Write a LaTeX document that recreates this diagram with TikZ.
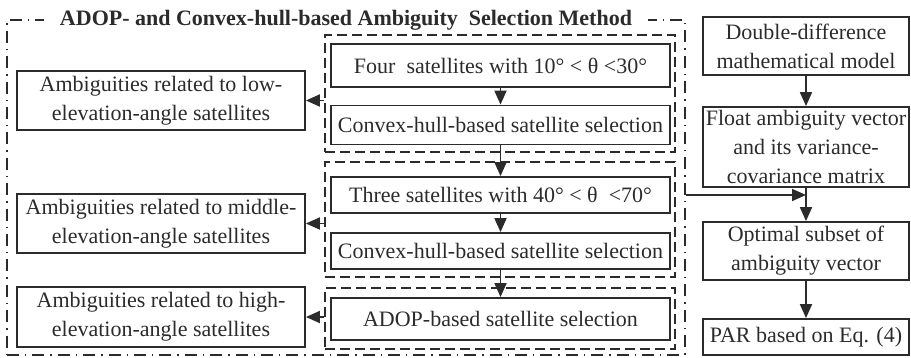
\documentclass[tikz,border=0pt]{standalone}
\usepackage{fontspec}
\setmainfont{Liberation Serif}
\usepackage{tikz}
\usetikzlibrary{arrows.meta, positioning, fit}
\definecolor{ink}{HTML}{2B2B2B}
\tikzset{
    box/.style={rectangle, draw=ink, line width=0.9pt, inner sep=0pt, align=center, font=\fontsize{11}{14.5}\selectfont, text=ink},
    selbox/.style={box, minimum width=169.5pt, minimum height=19.5pt},
    ambbox/.style={box, minimum width=144pt, minimum height=29.5pt},
    flowbox/.style={box, minimum width=103pt},
    group/.style={rectangle, draw=ink, line width=0.8pt, dash pattern=on 5pt off 2.5pt, inner sep=0pt},
    frame/.style={rectangle, draw=ink, line width=0.7pt, dash pattern=on 6pt off 3pt on 0.7pt off 3pt, inner sep=0pt},
    arrow/.style={-{Triangle[length=7pt,width=6pt]}, line width=0.9pt, color=ink}
}

\begin{document}
\begin{tikzpicture}[x=0.5pt, y=-0.5pt]
    \useasboundingbox (0,0) rectangle (911,358);

    % outer frame and title
    \node [frame, fit={(7,20) (685,355)}] (frame) {};
    \node [fill=white, inner xsep=8pt, inner ysep=1pt, text=ink, font=\fontsize{11}{12}\selectfont\bfseries] (title) at (346,20) {ADOP- and Convex-hull-based Ambiguity\ \ Selection Method};

    % satellite selection steps
    \node [selbox, minimum height=21.5pt] (four) at (500.5,65.5) {Four\ \ satellites with 10° < θ <30°};
    \node [selbox] (conv1) at (500.5,125) {Convex-hull-based satellite selection};
    \node [selbox, minimum height=18pt] (three) at (500.5,195) {Three satellites with 40° < θ\ \ <70°};
    \node [selbox, minimum height=18pt] (conv2) at (500.5,251) {Convex-hull-based satellite selection};
    \node [selbox, minimum height=21pt] (adop) at (500.5,319) {ADOP-based satellite selection};

    \node [group, fit={(325,35) (675,152)}] (g1) {};
    \node [group, fit={(325,162) (675,277)}] (g2) {};
    \node [group, fit={(325,288) (675,349)}] (g3) {};

    % ambiguity groups
    \node [ambbox] (low) at (161,100.5) {Ambiguities related to low-\\elevation-angle satellites};
    \node [ambbox] (mid) at (161,223.5) {Ambiguities related to middle-\\elevation-angle satellites};
    \node [ambbox, minimum height=30pt] (high) at (161,317) {Ambiguities related to high-\\elevation-angle satellites};

    % right column
    \node [flowbox, minimum height=29pt] (ddmodel) at (806,46) {Double-difference\\mathematical model};
    \node [flowbox, minimum height=40pt] (float) at (806,147) {Float ambiguity vector\\and its variance-\\covariance matrix};
    \node [flowbox, minimum height=29pt] (subset) at (806,251) {Optimal subset of\\ambiguity vector};
    \node [flowbox, minimum height=18pt] (par) at (806,337) {PAR based on Eq. (4)};

    \draw [arrow] (four) -- (conv1);
    \draw [arrow] (conv1) -- (three);
    \draw [arrow] (three) -- (conv2);
    \draw [arrow] (conv2) -- (adop);

    \draw [arrow] (g1.west |- low) -- (low.east);
    \draw [arrow] (g2.west |- mid) -- (mid.east);
    \draw [arrow] (g3.west |- high) -- (high.east);

    \draw [arrow] (ddmodel) -- (float);
    \draw [arrow] (float) -- (subset);
    \draw [arrow] (frame.east |- three) -- (float.south |- three);
    \draw [arrow] (subset) -- (par);
\end{tikzpicture}
\end{document}
